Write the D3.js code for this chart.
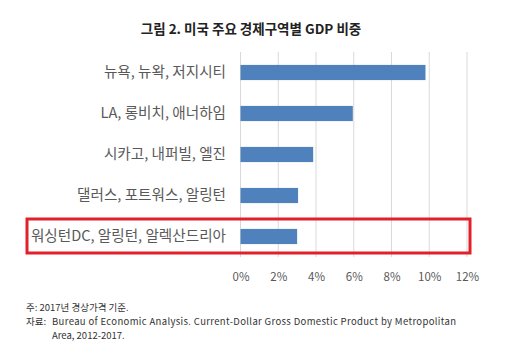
<!DOCTYPE html>
<html><head><meta charset="utf-8">
<script src="https://cdn.jsdelivr.net/npm/d3@7/dist/d3.min.js"></script>
<style>body{margin:0;background:#fff}svg{display:block}</style>
</head><body>
<script>
const categories = ["뉴욕, 뉴왁, 저지시티", "LA, 롱비치, 애너하임", "시카고, 내퍼빌, 엘진", "댈러스, 포트워스, 알링턴", "워싱턴DC, 알링턴, 알렉산드리아"];
const values = [9.8, 5.95, 3.85, 3.05, 3.0];
const tickValues = [0, 2, 4, 6, 8, 10, 12];
const title = "그림 2. 미국 주요 경제구역별 GDP 비중";
const notes = ["주: 2017년 경상가격 기준.", "자료: ", "Bureau of Economic Analysis. Current-Dollar Gross Domestic Product by Metropolitan", "Area, 2012-2017."];

const W = 529, H = 360;
const svg = d3.select("body").append("svg").attr("width", W).attr("height", H);
const font = "'Noto Sans CJK KR', 'Noto Sans', sans-serif";

svg.append("text").attr("x", 251).attr("y", 34).attr("text-anchor", "middle")
  .attr("font-family", font).attr("font-size", 13.5).attr("font-weight", "bold").attr("fill", "#222")
  .text(title);

const x = d3.scaleLinear().domain([0, 12]).range([240.5, 467]);
const y = d3.scaleBand().domain(categories).range([52, 257]).paddingInner(0.63).paddingOuter(0.315);

const g = svg.append("g");
g.selectAll("line.grid").data(tickValues).join("line").attr("class", "grid")
  .attr("x1", d => x(d)).attr("x2", d => x(d)).attr("y1", 52).attr("y2", 257)
  .attr("stroke", "#d9d9d9").attr("stroke-width", 1);

g.selectAll("rect.bar").data(values).join("rect").attr("class", "bar")
  .attr("x", x(0)).attr("y", (d, i) => y(categories[i]))
  .attr("width", d => x(d) - x(0)).attr("height", y.bandwidth())
  .attr("fill", "#4F81BD");

const xAxis = d3.axisBottom(x).tickValues(tickValues).tickFormat(d => d + "%").tickSize(0);
const xa = svg.append("g").attr("transform", "translate(0,270)").call(xAxis);
xa.select(".domain").remove();
xa.selectAll("text").attr("font-family", font).attr("font-size", 11.5).attr("fill", "#595959");

const yAxis = d3.axisLeft(y).tickSize(0).tickPadding(0);
const ya = svg.append("g").attr("transform", "translate(226,0)").call(yAxis);
ya.select(".domain").remove();
ya.selectAll("text").attr("font-family", font).attr("font-size", 14.6).attr("fill", "#595959");

svg.append("rect").attr("x", 27).attr("y", 219).attr("width", 443).attr("height", 34)
  .attr("fill", "none").attr("stroke", "#e3202a").attr("stroke-width", 3);

const nf = svg.append("g").attr("font-family", font).attr("font-size", 9.5).attr("fill", "#333");
nf.append("text").attr("x", 26).attr("y", 311).text(notes[0]);
nf.append("text").attr("x", 26).attr("y", 325).text(notes[1]);
nf.append("text").attr("x", 52).attr("y", 325).attr("textLength", 404).text(notes[2]);
nf.append("text").attr("x", 52).attr("y", 339).text(notes[3]);
</script>
</body></html>
